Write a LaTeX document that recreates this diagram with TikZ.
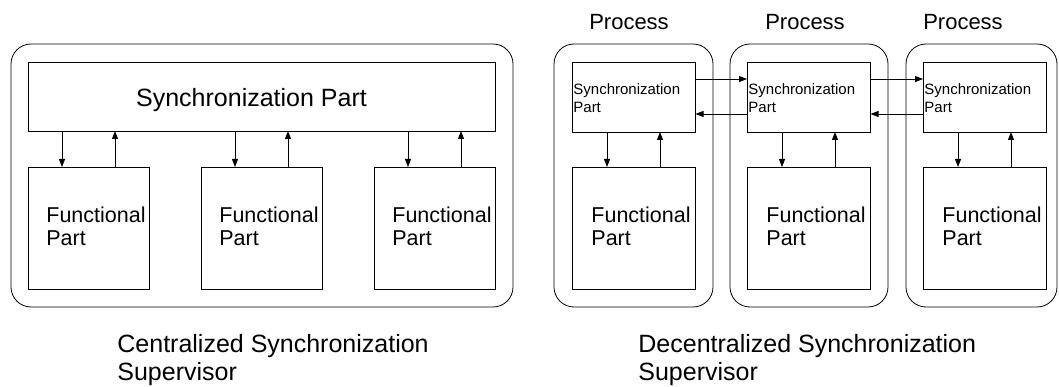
\documentclass[tikz,border=0pt]{standalone}
\usepackage{fontspec}
\setmainfont{Liberation Sans}
\usetikzlibrary{arrows.meta}
\begin{document}
\begin{tikzpicture}[x=1pt,y=-1pt,
  line width=0.8pt,
  outer/.style={draw, rounded corners=20pt},
  box/.style={draw, inner sep=0pt, outer sep=0pt},
  arr/.style={-{Triangle[length=8pt,width=6pt]}},
  bigtxt/.style={inner sep=0pt, anchor=base, font=\fontsize{25}{28}\selectfont},
  functxt/.style={inner sep=0pt, anchor=base west, align=left, font=\fontsize{21.5}{24}\selectfont},
  smalltxt/.style={inner sep=0pt, anchor=base west, align=left, font=\fontsize{15}{18}\selectfont},
  proctxt/.style={inner sep=0pt, anchor=base, font=\fontsize{22}{26}\selectfont},
  captxt/.style={inner sep=0pt, anchor=base west, align=left, font=\fontsize{25}{28}\selectfont}]
\useasboundingbox (0,0) rectangle (1059,387);

% ---------- centralized supervisor ----------
\draw[outer] (11,44) rectangle (513,307);
\node[box, minimum width=467pt, minimum height=69pt] (cs) at (261.5,96.5) {};
\node[bigtxt] (cst) at (251.5,106.7) {Synchronization Part};
\foreach \i/\x in {1/28, 2/201, 3/374} {
  \node[box, minimum width=121pt, minimum height=122pt, anchor=north west] (cf\i) at (\x,167) {};
  \node[functxt] at (\x+18,246) {Functional\\Part};
  \draw[arr] ([xshift=34pt]cf\i.north west |- cs.south) -- ([xshift=34pt]cf\i.north west);
  \draw[arr] ([xshift=87pt]cf\i.north west) -- ([xshift=87pt]cf\i.north west |- cs.south);
}
\node[captxt] (ccap) at (117,380) {Centralized Synchronization\\Supervisor};

% ---------- decentralized supervisor ----------
\foreach \i/\px/\pw/\x/\c in {1/554/159/572/629, 2/730/158/747/805, 3/906/151/923/963} {
  \draw[outer] (\px,44) rectangle ++(\pw,263);
  \node[proctxt] (p\i) at (\c,29.3) {Process};
  \node[box, minimum width=123.5pt, minimum height=70pt, anchor=north west] (ds\i) at (\x,62) {};
  \node[smalltxt] at (\x+1,113) {Synchronization\\Part};
  \node[box, minimum width=123.5pt, minimum height=122pt, anchor=north west] (df\i) at (\x,167) {};
  \node[functxt] at (\x+19,246) {Functional\\Part};
  \draw[arr] ([xshift=35pt]df\i.north west |- ds\i.south) -- ([xshift=35pt]df\i.north west);
  \draw[arr] ([xshift=88pt]df\i.north west) -- ([xshift=88pt]df\i.north west |- ds\i.south);
}
\foreach \a/\b in {1/2, 2/3} {
  \draw[arr] ([yshift=-17pt]ds\a.north east) -- ([yshift=-17pt]ds\a.north east -| ds\b.west);
  \draw[arr] ([yshift=-52pt]ds\b.north west) -- ([yshift=-52pt]ds\b.north west -| ds\a.east);
}
\node[captxt] (dcap) at (638,380) {Decentralized Synchronization\\Supervisor};
\end{tikzpicture}
\end{document}
